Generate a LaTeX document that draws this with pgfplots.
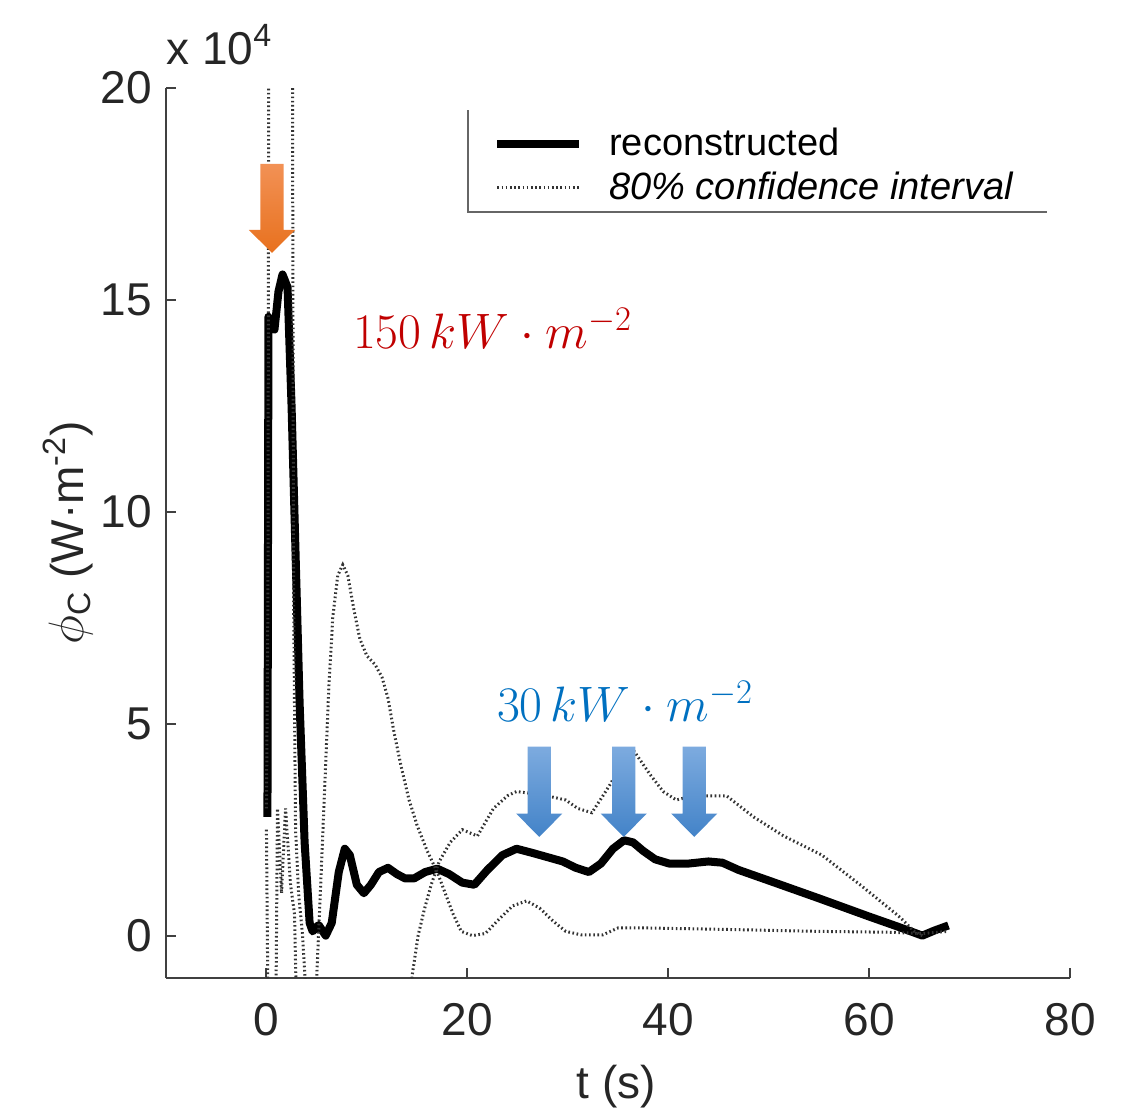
\documentclass[border=0pt]{standalone}
\usepackage{pgfplots}
\pgfplotsset{compat=1.18}
\usepackage{fontspec}
\setmainfont{Liberation Sans}

\definecolor{orgtop}{HTML}{F29155}
\definecolor{orgbot}{HTML}{E8711E}
\definecolor{blutop}{HTML}{7DABDF}
\definecolor{blubot}{HTML}{4383C8}
\definecolor{redtxt}{HTML}{C00000}
\definecolor{blutxt}{HTML}{0070C0}
\definecolor{axgray}{HTML}{404040}

% values in units of 10^4 W/m^2
\pgfplotstableread{
t phi
0.10 2.80
0.20 14.60
0.80 14.30
1.20 15.20
1.60 15.60
2.10 15.30
2.50 12.50
2.90 9.00
3.30 5.50
3.80 2.20
4.30 0.30
4.60 0.10
5.20 0.25
5.90 0.00
6.50 0.30
7.20 1.50
7.80 2.05
8.30 1.90
9.00 1.20
9.70 1.00
10.40 1.20
11.20 1.50
12.10 1.60
13.00 1.45
13.80 1.35
14.70 1.35
15.80 1.50
17.00 1.58
18.20 1.45
19.50 1.25
20.70 1.20
22.00 1.55
23.50 1.90
24.90 2.05
26.50 1.95
28.00 1.85
29.50 1.75
30.80 1.60
32.10 1.50
33.30 1.70
34.50 2.05
35.60 2.25
36.50 2.20
37.50 2.00
38.70 1.80
40.10 1.70
42.00 1.70
44.00 1.75
45.40 1.72
47.00 1.55
50.00 1.30
55.00 0.88
60.00 0.45
63.00 0.20
65.30 0.00
66.50 0.12
67.90 0.24
}\recon

\pgfplotstableread{
t phi
0.00 3.00
0.15 8.00
0.25 25.00
2.55 25.00
2.70 8.00
2.90 2.50
3.20 1.00
3.60 0.00
4.10 -2.00
4.70 -3.00
5.00 -1.00
5.40 1.20
5.80 3.50
6.20 5.80
6.60 7.50
7.10 8.50
7.60 8.75
8.10 8.50
8.70 7.70
9.30 7.00
10.00 6.60
10.80 6.40
11.50 6.10
12.10 5.60
12.70 4.80
13.40 4.00
14.20 3.20
15.00 2.60
16.00 2.00
17.00 1.50
17.80 1.00
18.60 0.50
19.40 0.10
20.50 0.00
21.80 0.05
23.00 0.35
24.50 0.70
25.90 0.82
27.20 0.65
28.50 0.35
29.80 0.10
31.30 0.02
33.50 0.02
35.00 0.18
38.00 0.18
45.00 0.15
55.00 0.10
62.00 0.08
65.30 0.05
67.90 0.10
}\ciA

\pgfplotstableread{
t phi
0.00 2.50
0.20 -3.00
0.90 -3.00
1.10 3.00
1.50 1.00
1.90 3.00
2.40 1.20
2.80 0.50
3.10 -3.00
14.00 -3.00
14.50 -0.95
15.10 0.00
15.70 0.60
16.40 1.20
17.20 1.75
18.30 2.20
19.50 2.50
21.00 2.35
22.60 3.00
24.00 3.30
24.90 3.40
26.50 3.35
27.90 3.30
29.80 3.20
31.00 3.00
32.40 2.90
33.50 3.30
34.30 3.60
35.50 4.10
36.60 4.35
38.20 3.80
39.50 3.40
40.80 3.20
42.50 3.30
43.90 3.30
45.80 3.30
48.50 2.80
51.50 2.35
55.30 1.90
59.10 1.20
62.90 0.47
64.50 0.10
65.30 0.00
}\ciB

\begin{document}
\begin{tikzpicture}
\begin{axis}[
  name=ax,
  scale only axis,
  width=452pt, height=445pt,
  xmin=-10, xmax=80, ymin=-1, ymax=20,
  axis x line*=bottom, axis y line*=left,
  axis line style={-, line width=1pt, axgray},
  xtick={0,20,40,60,80}, ytick={0,5,10,15,20},
  tick align=inside, major tick length=5pt,
  tick style={line width=1pt, axgray},
  ticklabel style={font=\fontsize{23}{27}\selectfont, text=black!85},
  xticklabel style={yshift=-9pt},
  yticklabel style={xshift=-3.5pt},
  /pgf/number format/assume math mode=true,
  xlabel={t (s)},
  ylabel={$\phi$\textsubscript{C} (W·m\textsuperscript{-2})},
  label style={font=\fontsize{23}{27}\selectfont, text=black!85},
  xlabel style={at={(axis description cs:0.498,-0.122)}, anchor=center},
  ylabel style={at={(axis description cs:-0.1085,0.5)}, anchor=center},
  legend cell align=left,
  legend image code/.code={\draw[#1] (0pt,0pt) -- (41pt,0pt);},
  legend style={at={(axis description cs:0.355,0.913)}, anchor=west,
    draw=none, fill=none, font=\fontsize{19}{22}\selectfont, row sep=2.5pt,
    /tikz/every odd column/.append style={column sep=11pt}},
]
\addplot[black, line width=4pt, line join=round] table[x=t, y=phi] {\recon};
\addlegendentry{reconstructed}
\addplot[black!80, line width=1.5pt, dash pattern=on 0.8pt off 1.3pt] table[x=t, y=phi] {\ciA};
\addlegendentry{\textit{80\% confidence interval}}
\addplot[black!80, line width=1.5pt, dash pattern=on 0.8pt off 1.3pt, forget plot] table[x=t, y=phi] {\ciB};

% legend frame (only left and bottom edges show)
\draw[line width=1pt, black!60] (axis description cs:0.334,0.975) -- (axis description cs:0.334,0.861) -- (axis description cs:0.975,0.861);

% annotation arrows
\shade[top color=orgtop, bottom color=orgbot] (-0.60,18.21) -- (1.70,18.21) -- (1.70,16.65) -- (2.85,16.65) -- (0.55,16.11) -- (-1.75,16.65) -- (-0.60,16.65) -- cycle;
\shade[top color=blutop, bottom color=blubot] (26.01,4.46) -- (28.31,4.46) -- (28.31,2.88) -- (29.46,2.88) -- (27.16,2.33) -- (24.86,2.88) -- (26.01,2.88) -- cycle;
\shade[top color=blutop, bottom color=blubot] (34.42,4.46) -- (36.72,4.46) -- (36.72,2.88) -- (37.87,2.88) -- (35.57,2.33) -- (33.27,2.88) -- (34.42,2.88) -- cycle;
\shade[top color=blutop, bottom color=blubot] (41.44,4.46) -- (43.74,4.46) -- (43.74,2.88) -- (44.89,2.88) -- (42.59,2.33) -- (40.29,2.88) -- (41.44,2.88) -- cycle;

\node[text=redtxt, font=\fontsize{24}{28}\selectfont] at (22.5,14.32) {$150\,kW\cdot m^{-2}$};
\node[text=blutxt, font=\fontsize{24}{28}\selectfont] at (35.7,5.52) {$30\,kW\cdot m^{-2}$};
\end{axis}
\node[anchor=base west, font=\fontsize{23}{27}\selectfont, text=black!85, inner sep=0pt] at ([yshift=11.5pt]ax.north west) {x 10\textsuperscript{4}};
\pgfresetboundingbox
\path ([xshift=-83pt,yshift=-66.5pt]ax.south west) rectangle ([xshift=27pt,yshift=44pt]ax.north east);
\end{tikzpicture}
\end{document}
